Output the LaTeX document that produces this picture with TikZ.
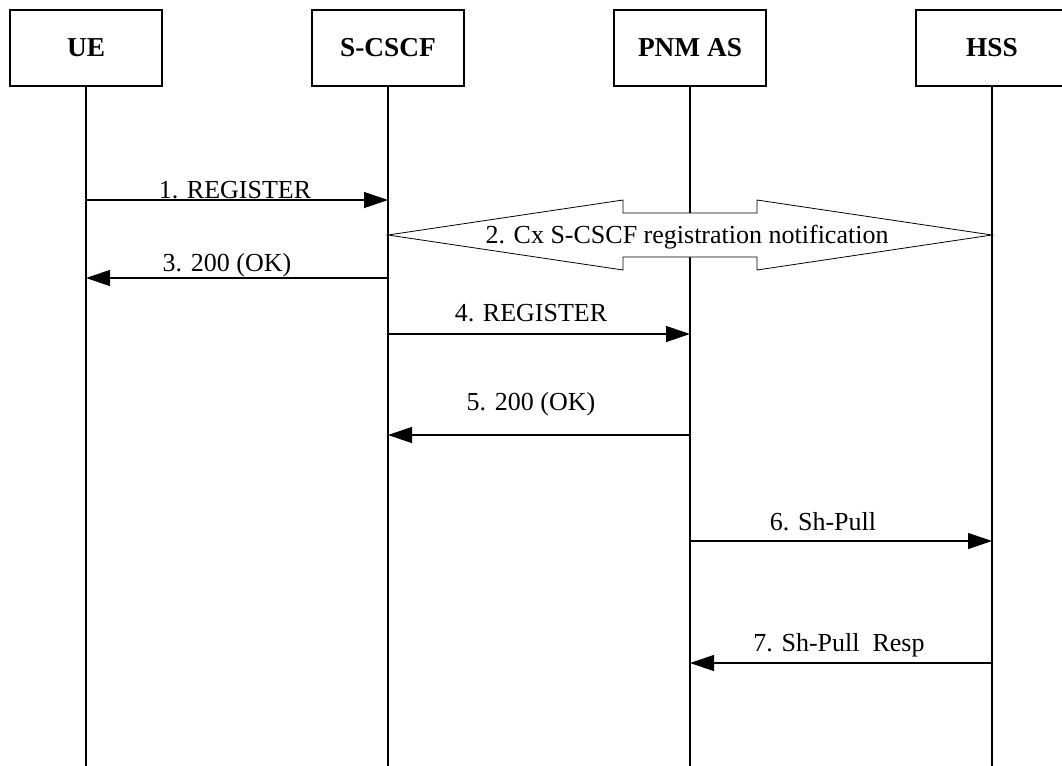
\documentclass[tikz,border=0pt]{standalone}
\usepackage{fontspec}
\setmainfont{Liberation Serif}
\usetikzlibrary{arrows.meta}
\begin{document}
\begin{tikzpicture}[x=0.75pt,y=-0.75pt,
  ent/.style={draw, line width=0.9pt, minimum width=114pt, minimum height=57pt, inner sep=0pt, font=\fontsize{20.5}{23}\selectfont\bfseries},
  life/.style={line width=0.9pt},
  msg/.style={line width=0.9pt, -{Triangle[length=18pt, width=12pt]}},
  lbl/.style={anchor=base, inner sep=0pt, font=\fontsize{19.5}{22}\selectfont},
  dbl/.style={draw, line width=0.6pt, fill=white}]
\useasboundingbox (0,0) rectangle (1062,765);
% entities
\node[ent] (ue) at (86,48) {UE};
\node[ent] (scscf) at (388,48) {S-CSCF};
\node[ent] (pnm) at (690,48) {PNM AS};
\node[ent] (hss) at (992,48) {HSS};
\coordinate (bot) at (0,766);
% lifelines
\draw[life] (ue.south) -- (ue.south |- bot);
\draw[life] (scscf.south) -- (scscf.south |- bot);
\draw[life] (pnm.south) -- (pnm.south |- bot);
\draw[life] (hss.south) -- (hss.south |- bot);
% 1
\draw[msg] (ue |- 0,200) -- (scscf |- 0,200);
\node[lbl] (l1) at (235,198) {1. REGISTER};
% 2 double arrow
\coordinate (dl) at (scscf |- 0,235);
\coordinate (dr) at (hss |- 0,235);
\draw[dbl] (dl) -- (623,200) -- (623,213) -- (757,213) -- (757,200) -- (dr)
  -- (757,270) -- (757,257) -- (623,257) -- (623,270) -- cycle;
\node[lbl] (l2) at (687,243) {2. Cx S-CSCF registration notification};
% 3
\draw[msg] (scscf |- 0,278) -- (ue |- 0,278);
\node[lbl] (l3) at (227,271) {3. 200 (OK)};
% 4
\draw[msg] (scscf |- 0,334) -- (pnm |- 0,334);
\node[lbl] (l4) at (531,321) {4. REGISTER};
% 5
\draw[msg] (pnm |- 0,435) -- (scscf |- 0,435);
\node[lbl] (l5) at (531,410) {5. 200 (OK)};
% 6
\draw[msg] (pnm |- 0,541) -- (hss |- 0,541);
\node[lbl] (l6) at (823,530) {6. Sh-Pull};
% 7
\draw[msg] (hss |- 0,663) -- (pnm |- 0,663);
\node[lbl] (l7) at (839,651) {7. Sh-Pull\ \ Resp};
\end{tikzpicture}
\end{document}
